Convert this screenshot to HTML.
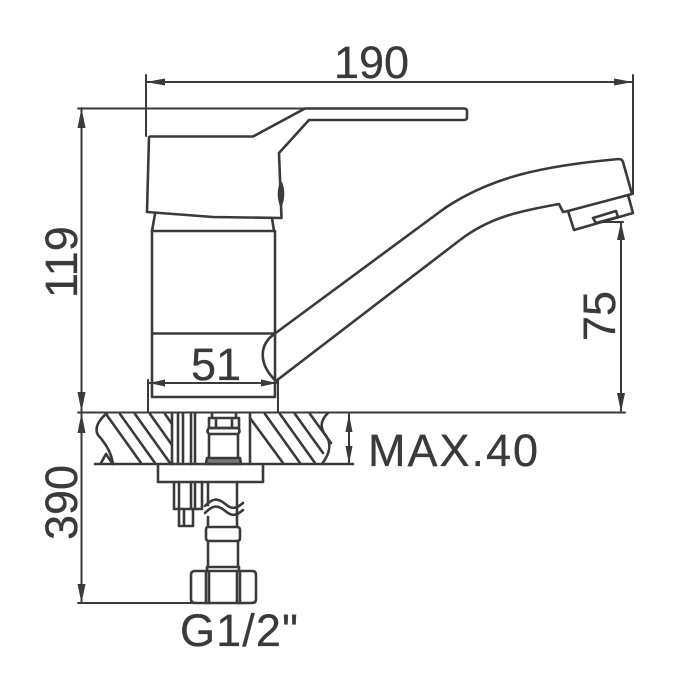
<!DOCTYPE html>
<html>
<head>
<meta charset="utf-8">
<style>
html,body{margin:0;padding:0;background:#fff;}
svg{display:block;}
text{font-family:"Liberation Sans",sans-serif;fill:#3a3a3a;font-size:45px;stroke:#3a3a3a;stroke-width:.3;}
.l{fill:none;stroke:#3a3a3a;stroke-width:2.6;stroke-linejoin:round;stroke-linecap:round;}
.t{fill:none;stroke:#3a3a3a;stroke-width:2;stroke-linecap:round;}
.a{fill:#3a3a3a;}
</style>
</head>
<body>
<svg width="700" height="700" viewBox="0 0 700 700" xmlns="http://www.w3.org/2000/svg">
<!-- dimension lines -->
<g class="t">
<path d="M146 75V136M633 75V194M146 82H633"/>
<path d="M78 108.500H305M81.500 108V603M78 603H195"/>
<path d="M78 412.500H625M621 222V412M600 222H623"/>
<path d="M148 380V412M278 380V412M148 383H278"/>
<path d="M349 414V464M322 464H353"/>
</g>
<!-- arrowheads -->
<g class="a">
<path d="M146 82L165 78.500V85.500Z"/><path d="M633 82L614 78.500V85.500Z"/>
<path d="M81.500 108L77.500 128H85.500Z"/><path d="M81.500 412L77.500 392H85.500Z"/>
<path d="M81.500 413L77.500 433H85.500Z"/><path d="M81.500 603L77.500 584H85.500Z"/>
<path d="M621 222L617 240H625Z"/><path d="M621 412L617 393H625Z"/>
<path d="M149 383L165 379.500V386.500Z"/><path d="M277 383L261 379.500V386.500Z"/>
<path d="M349 414L345.500 432H352.500Z"/><path d="M349 464L345.500 446H352.500Z"/>
</g>
<!-- handle -->
<g class="l">
<path d="M150 136.500H253L305 108.500H464Q467 108.500 467 111V117Q467 120 464 120H309L279 153L281.500 218L213 217L147 212L149 137"/>
<path d="M281 183Q285 194 281 205Q277 194 281 183Z" />
<path d="M155 214L152 231H274L272 218"/>
<path d="M152 231V397H275V231M152 333.500H275"/>
<!-- spout -->
<path d="M275 333.500L445 208C490 178 540 166 619 159Q622 159 623 162L632 194L568 211L574 230L633 213L628 195"/>
<path d="M275 333.500C258 345 259 365 276 381L460 240C490 217 520 211 559 204L563 212L568 211"/>
<path d="M593 218L616 211L618 217L596 223Z"/>
<!-- table -->
<path d="M95 464H353"/>
<path d="M107 413C99 420 94 428 98 435C106 444 111 452 113 464"/>
<path d="M328 413C321 420 320 426 324 433C332 442 331 452 322 464"/>
<path d="M101 463L106 454L112 463"/>
<path d="M172 413V464M178 413V464M183 413V464M191 413V464M195 413V464M250 413V464"/>
<!-- hatch -->
<path d="M106 414L141 463M120 414L155 463M135 414L170 463M150 414L172 445M165 414L172 424"/>
<path d="M250 418L283 463M265 414L300 463M280 414L315 463M295 414L323 453M310 414L331 443"/>
<!-- valve fitting -->
<path d="M212 414V418H236V414M209 418H239V428H209ZM216 418V428M232 418V428"/>
<path d="M209 428H238Q241 431 238 434H209Q206 431 209 428ZM209 434V458M238 434V458"/>
<path d="M207 458H240L241 464H206Z" fill="#777"/>
<!-- plate -->
<path d="M158 465V482H263V465"/>
<!-- bolt -->
<path d="M174 482V509H202V482M179 482V509M191 482V509M195 482V509"/>
<path d="M179 509L179 526H193V509M184 526V509"/>
<!-- hose -->
<path d="M208 482V505M237 482V513M208 517V526M237 513V526"/>
<path d="M205 506C213 498 217 498 224 503C231 509 235 510 243 503"/>
<path d="M205 513C213 505 217 505 224 510C231 516 235 517 243 510"/>
<path d="M208 527H237Q240 527 240 530V538Q240 541 237 541H209Q206 541 206 538V530Q206 527 208 527ZM208 541V567M238 541V567"/>
<path d="M207 571V567H239V571"/>
<path d="M195 571H252Q256 571 256 575V599Q256 603 252 603H195Q191 603 191 599V575Q191 571 195 571Z"/>
<path d="M206 571V603M209 571V603M237 571V603M240 571V603"/>
</g>
<!-- labels -->
<text x="334" y="78">190</text>
<text x="191" y="380">51</text>
<text x="368" y="466" textLength="170" lengthAdjust="spacing">MAX.40</text>
<text x="180" y="646" textLength="118" lengthAdjust="spacing">G1/2"</text>
<text transform="translate(77 298) rotate(-90)">119</text>
<text transform="translate(77 540) rotate(-90)">390</text>
<text transform="translate(615 341) rotate(-90)">75</text>
</svg>
</body>
</html>
